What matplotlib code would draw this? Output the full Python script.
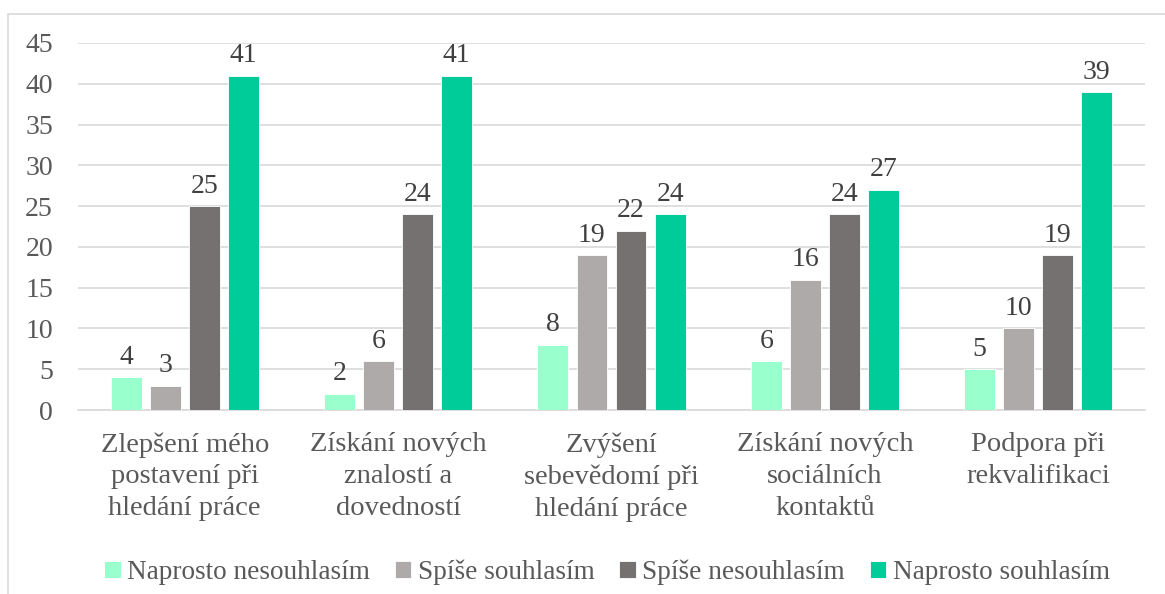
import numpy as np
import matplotlib.pyplot as plt
from matplotlib.patches import Rectangle

plt.rcParams['font.family'] = ['Liberation Serif', 'DejaVu Serif']

categories = ['Zlepšení mého\npostavení při\nhledání práce',
              'Získání nových\nznalostí a\ndovedností',
              'Zvýšení\nsebevědomí při\nhledání práce',
              'Získání nových\nsociálních\nkontaktů',
              'Podpora při\nrekvalifikaci']
series_names = ['Naprosto nesouhlasím', 'Spíše souhlasím', 'Spíše nesouhlasím', 'Naprosto souhlasím']
naprosto_nesouhlasim = [4, 2, 8, 6, 5]
spise_souhlasim = [3, 6, 19, 16, 10]
spise_nesouhlasim = [25, 24, 22, 24, 19]
naprosto_souhlasim = [41, 41, 24, 27, 39]
colors = ['#99FFCC', '#AEAAAA', '#767171', '#00CC99']

values = [naprosto_nesouhlasim, spise_souhlasim, spise_nesouhlasim, naprosto_souhlasim]
text_color = '#595959'

fig = plt.figure(figsize=(11.65, 5.94), dpi=100)
ax = fig.add_axes([78 / 1165, 1 - 410 / 594, (1145 - 78) / 1165, (410 - 43) / 594])

# rámeček grafu
fig.patches.append(Rectangle((8 / 1165, -0.1), 1.2, 1 - 14 / 594 + 0.1, transform=fig.transFigure,
                             fill=False, edgecolor='#D9D9D9', linewidth=1.2))

x = np.arange(len(categories))
width = 0.145
step = 0.183
for i, (name, vals, c) in enumerate(zip(series_names, values, colors)):
    pos = x + (i - 1.5) * step
    bars = ax.bar(pos, vals, width, color=c, label=name, edgecolor='white', linewidth=0.6, zorder=3)
    for b, v in zip(bars, vals):
        ax.text(b.get_x() + b.get_width() / 2, v + 0.9, str(v), ha='center', va='bottom',
                fontsize=20, color='#404040')

ax.set_xlim(-0.5, len(categories) - 0.5)
ax.set_ylim(0, 45)
ax.set_yticks(range(0, 46, 5))
ax.set_xticks(x)
ax.set_xticklabels(categories, fontsize=20.5, color=text_color, linespacing=1.35, va='top')
ax.tick_params(axis='y', labelsize=20, labelcolor=text_color, length=0, pad=18)
ax.tick_params(axis='x', length=0, pad=16)
ax.grid(axis='y', color='#D9D9D9', linewidth=1.2, zorder=0)
for s in ['top', 'right', 'left']:
    ax.spines[s].set_visible(False)
ax.spines['bottom'].set_color('#D9D9D9')
ax.spines['bottom'].set_linewidth(1.2)

leg = fig.legend(loc='center', bbox_to_anchor=(607 / 1165, 1 - 572 / 594), ncol=4, frameon=False,
                 fontsize=19.6, handlelength=0.6, handleheight=0.6, handletextpad=0.25, columnspacing=0.9)
for t in leg.get_texts():
    t.set_color(text_color)

fig.savefig('out.png', dpi=100)
